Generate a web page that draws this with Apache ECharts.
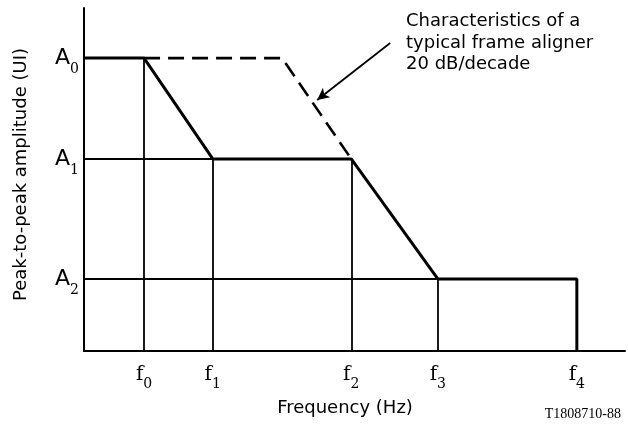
<!DOCTYPE html>
<html>
<head>
<meta charset="utf-8">
<script src="https://cdn.jsdelivr.net/npm/echarts@6/dist/echarts.min.js"></script>
<style>html,body{margin:0;padding:0;background:#fff}#c{width:628px;height:427px}</style>
</head>
<body>
<div id="c"></div>
<script>
// Frequency ticks (symbolic positions on a linear axis 0..100)
const freqSubs = ['0', '1', '2', '3', '4'];
const freqPos = [11.1, 23.8, 49.4, 65.4, 91.1];
// Amplitude ticks (symbolic positions on a linear axis 0..100)
const ampSubs = ['0', '1', '2'];
const ampPos = [85.4, 56.0, 21.0];
// Jitter tolerance mask (solid thick line)
const maskX = [0, freqPos[0], freqPos[1], freqPos[2], freqPos[3], freqPos[4], freqPos[4]];
const maskY = [ampPos[0], ampPos[0], ampPos[1], ampPos[1], ampPos[2], ampPos[2], 0];
// Typical frame aligner characteristic (dashed)
const alignerX = [freqPos[0], 36.6, freqPos[2]];
const alignerY = [ampPos[0], ampPos[0], ampPos[1]];
// Guide lines: level reached by mask at each frequency, and frequency where each level begins
const vGuideTop = [ampPos[0], ampPos[1], ampPos[1], ampPos[2], ampPos[2]];
const hGuideEnd = [freqPos[0], freqPos[1], freqPos[3]];
// Annotation
const annotationText = 'Characteristics of a\ntypical frame aligner\n20 dB/decade';
const arrowFrom = [56.6, 89.8];
const arrowTo = [43.1, 73.2];
const figureRef = 'T1808710-88';

const zip = (xs, ys) => xs.map((x, i) => [x, ys[i]]);

const guideLines = [];
freqPos.forEach((x, i) => guideLines.push([{coord: [x, 0]}, {coord: [x, vGuideTop[i]]}]));
ampPos.forEach((y, i) => guideLines.push([{coord: [0, y]}, {coord: [hGuideEnd[i], y]}]));

const chart = echarts.init(document.getElementById('c'), null, {renderer: 'canvas'});
chart.setOption({
  animation: false,
  backgroundColor: '#fff',
  grid: {left: 84, right: 3, top: 8, bottom: 76},
  xAxis: {
    type: 'value', min: 0, max: 100,
    name: 'Frequency (Hz)', nameLocation: 'middle', nameGap: 48,
    nameTextStyle: {fontFamily: 'DejaVu Sans', fontSize: 18, color: '#000', padding: [0, 19, 0, 0]},
    axisLine: {show: true, lineStyle: {color: '#000', width: 2}},
    axisTick: {show: false},
    splitLine: {show: false},
    axisLabel: {
      customValues: freqPos, margin: 14, color: '#000',
      formatter: v => '{f|f}{s|' + freqSubs[freqPos.indexOf(v)] + '}',
      rich: {
        f: {fontFamily: 'DejaVu Serif', fontSize: 20, color: '#000', verticalAlign: 'top', lineHeight: 26},
        s: {fontFamily: 'DejaVu Serif', fontSize: 14, color: '#000', verticalAlign: 'bottom', lineHeight: 26}
      }
    }
  },
  yAxis: {
    type: 'value', min: 0, max: 100,
    name: 'Peak-to-peak amplitude (UI)', nameLocation: 'middle', nameGap: 54,
    nameTextStyle: {fontFamily: 'DejaVu Sans', fontSize: 18, color: '#000', padding: [0, 0, 0, 10]},
    axisLine: {show: true, lineStyle: {color: '#000', width: 2}},
    axisTick: {show: false},
    splitLine: {show: false},
    axisLabel: {
      customValues: ampPos, margin: 5, color: '#000',
      formatter: v => '{a|A}{s|' + ampSubs[ampPos.indexOf(v)] + '}',
      rich: {
        a: {fontFamily: 'DejaVu Sans', fontSize: 22, color: '#000', verticalAlign: 'middle', lineHeight: 22},
        s: {fontFamily: 'DejaVu Serif', fontSize: 14, color: '#000', verticalAlign: 'top', lineHeight: 22, padding: [15, 0, 0, 0]}
      }
    }
  },
  graphic: [{
    type: 'text', left: 406, top: 11,
    style: {text: annotationText, font: '18px "DejaVu Sans"', fill: '#000', lineHeight: 21.5}
  }, {
    type: 'text', right: 7, bottom: 6,
    style: {text: figureRef, font: '14px "Liberation Serif"', fill: '#000'}
  }],
  series: [
    {
      type: 'line', name: 'guides', data: [], silent: true,
      markLine: {
        silent: true, symbol: ['none', 'none'], label: {show: false},
        lineStyle: {color: '#000', width: 1.8, type: 'solid'},
        data: guideLines
      }
    },
    {
      type: 'line', name: 'aligner', data: zip(alignerX, alignerY),
      showSymbol: false, lineStyle: {color: '#000', width: 2.6, type: [16, 8]},
      markLine: {
        silent: true, symbol: ['none', 'arrow'], symbolSize: [9, 12], label: {show: false},
        lineStyle: {color: '#000', width: 1.8, type: 'solid'},
        data: [[{coord: arrowFrom}, {coord: arrowTo}]]
      }
    },
    {
      type: 'line', name: 'mask', data: zip(maskX, maskY),
      showSymbol: false, lineStyle: {color: '#000', width: 3}
    }
  ]
});
</script>
</body>
</html>
